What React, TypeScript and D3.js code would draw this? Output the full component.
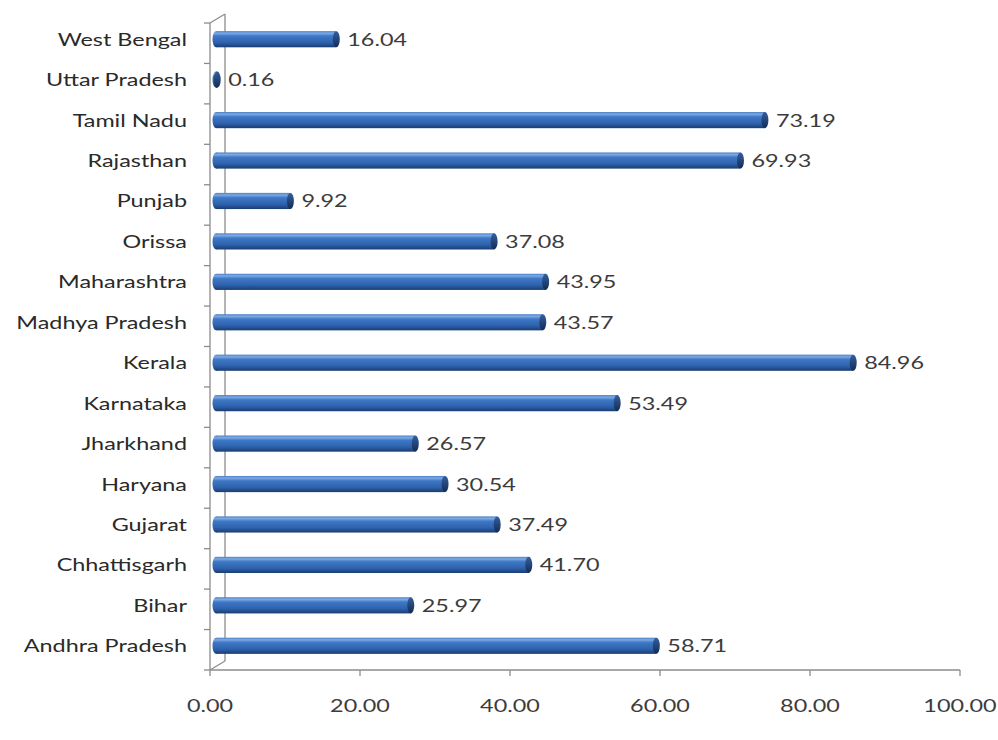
import React from "react";
import * as d3 from "d3";

const categories = [
  "West Bengal", "Uttar Pradesh", "Tamil Nadu", "Rajasthan", "Punjab", "Orissa",
  "Maharashtra", "Madhya Pradesh", "Kerala", "Karnataka", "Jharkhand", "Haryana",
  "Gujarat", "Chhattisgarh", "Bihar", "Andhra Pradesh",
];
const values = [16.04, 0.16, 73.19, 69.93, 9.92, 37.08, 43.95, 43.57, 84.96, 53.49, 26.57, 30.54, 37.49, 41.7, 25.97, 58.71];
const xTicks = [0, 20, 40, 60, 80, 100];

const W = 998, H = 740;
const left = 210, right = 960, top = 23, bottom = 670;
const wallDx = 15, wallDy = -9;
const barDx = 6, barDy = -4;
const font = "Lato, 'Open Sans', sans-serif";
const sx = 1.3;

function SText({ x, y, anchor, children, size, fill }: any) {
  return (
    <text
      transform={`translate(${x},${y}) scale(${sx},1)`}
      textAnchor={anchor}
      fontFamily={font}
      fontSize={size}
      fill={fill}
    >
      {children}
    </text>
  );
}

export default function App() {
  const x = d3.scaleLinear().domain([0, 100]).range([left, right]);
  const y = d3.scaleBand<string>().domain(categories).range([top, bottom]).paddingInner(0.6).paddingOuter(0.3);
  const step = (bottom - top) / categories.length;
  const bh = y.bandwidth();
  return (
    <svg width={W} height={H} style={{ position: "absolute", left: 0, top: 0, background: "#fff" }}>
      <defs>
        <linearGradient id="barGrad" x1="0" y1="0" x2="0" y2="1">
          <stop offset="0" stopColor="#4a7fc8" />
          <stop offset="0.13" stopColor="#7eaae4" />
          <stop offset="0.3" stopColor="#3f78c6" />
          <stop offset="0.7" stopColor="#2e62ad" />
          <stop offset="1" stopColor="#1a3d72" />
        </linearGradient>
        <linearGradient id="capGrad" x1="0" y1="0" x2="0" y2="1">
          <stop offset="0" stopColor="#355f9e" />
          <stop offset="1" stopColor="#122c54" />
        </linearGradient>
      </defs>
      {/* wall */}
      <g stroke="#8c8c8c" strokeWidth={1.3} fill="none">
        <line x1={left} y1={top} x2={left} y2={bottom} />
        <line x1={left + wallDx} y1={top + wallDy} x2={left + wallDx} y2={bottom + wallDy} />
        <line x1={left} y1={top} x2={left + wallDx} y2={top + wallDy} />
        <line x1={left} y1={bottom} x2={left + wallDx} y2={bottom + wallDy} />
        <line x1={left} y1={bottom} x2={right} y2={bottom} />
        {d3.range(categories.length + 1).map((k) => (
          <line key={k} x1={left - 6} x2={left} y1={top + k * step} y2={top + k * step} />
        ))}
        {xTicks.map((t) => (
          <line key={t} x1={x(t)} x2={x(t)} y1={bottom} y2={bottom + 6} />
        ))}
      </g>
      {/* bars */}
      {categories.map((c, i) => {
        const v = values[i];
        const cy = (y(c) as number) + bh / 2 + barDy;
        const x0 = x(0) + barDx;
        const x1 = x(v) + barDx;
        const r = bh / 2;
        return (
          <g key={c}>
            <ellipse cx={x0} cy={cy} rx={3.5} ry={r} fill="url(#barGrad)" />
            <rect x={x0} y={cy - r} width={Math.max(0, x1 - x0)} height={bh} fill="url(#barGrad)" />
            <ellipse cx={x1} cy={cy} rx={3.5} ry={r} fill="url(#capGrad)" />
            <SText x={x1 + 11} y={cy + 6.5} anchor="start" size={18} fill="#3c3c3c">
              {v.toFixed(2)}
            </SText>
            <SText x={187} y={cy + 6.5} anchor="end" size={18} fill="#2a2a2a">
              {c}
            </SText>
          </g>
        );
      })}
      {xTicks.map((t) => (
        <SText key={t} x={x(t)} y={712} anchor="middle" size={18} fill="#3c3c3c">
          {t.toFixed(2)}
        </SText>
      ))}
    </svg>
  );
}
